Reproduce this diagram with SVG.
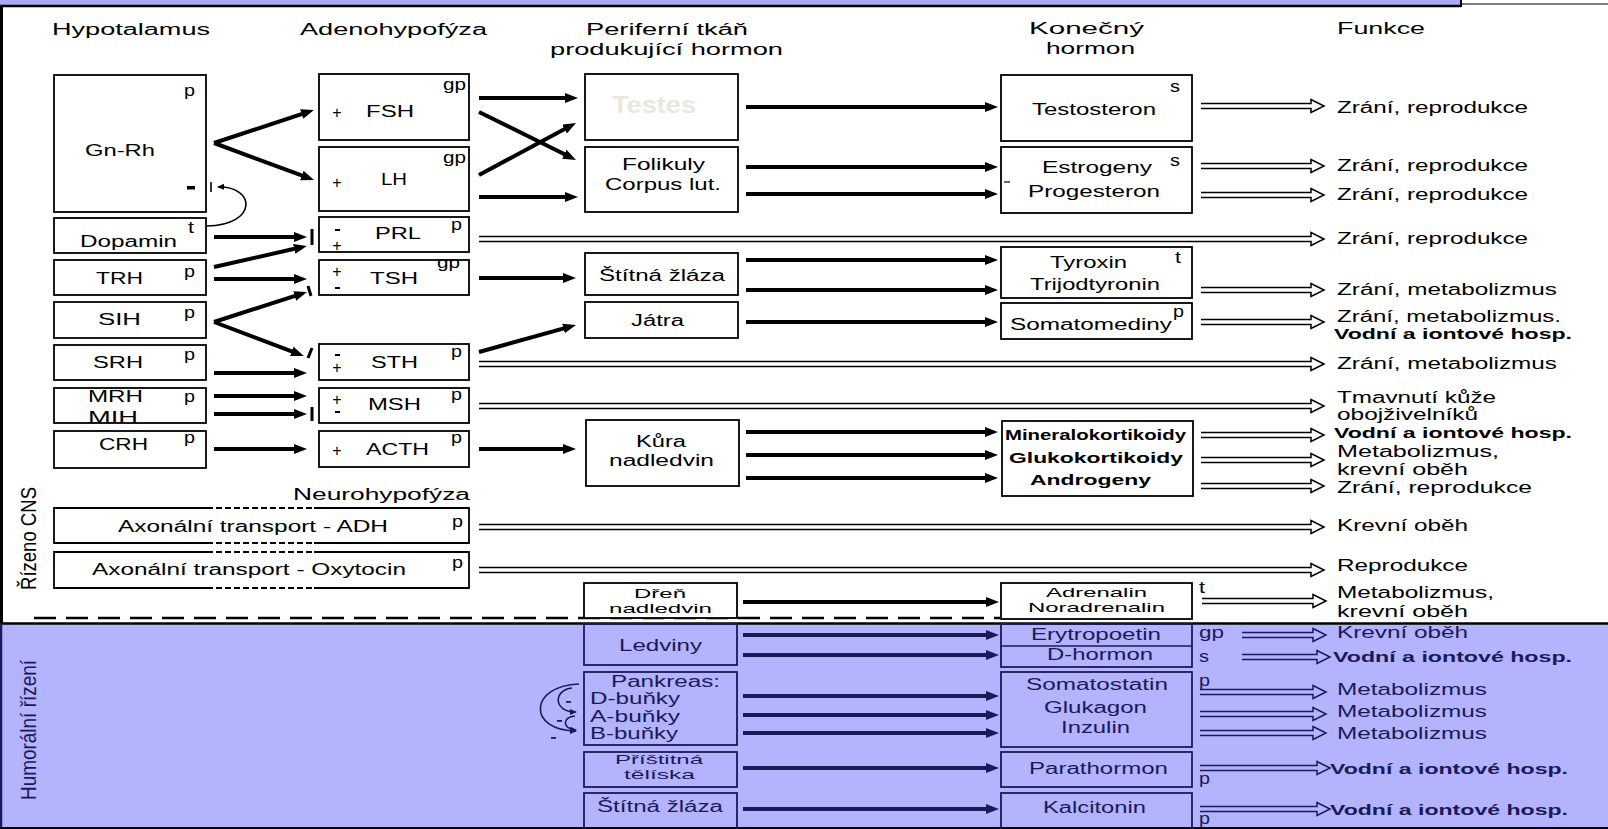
<svg xmlns="http://www.w3.org/2000/svg" width="1608" height="829" viewBox="0 0 1608 829">
<style>
text{font-family:"Liberation Sans",Arial,sans-serif;font-size:16px;fill:#000}
.m{font-size:15px}
.t2{font-size:13.5px}
.sp{font-size:17px}
.pm{font-size:16px}
.b{font-weight:bold}
.n{fill:#1a1a5a}
.bx{fill:#fff;stroke:#000;stroke-width:1.8}
.bxn{fill:none;stroke:#1a1a5a;stroke-width:1.8}
.ar{stroke:#000;stroke-width:4;fill:none;marker-end:url(#ah)}
.arn{stroke:#1a1a5a;stroke-width:4;fill:none;marker-end:url(#ahn)}
.da{fill:none;stroke:#000;stroke-width:1.5}
.dan{fill:none;stroke:#1a1a5a;stroke-width:1.5}
.bar{stroke:#000;stroke-width:3;fill:none}
.thin{stroke:#000;stroke-width:1.6;fill:none}
.thinn{stroke:#1a1a5a;stroke-width:1.6;fill:none}
.c{text-anchor:middle}
</style>
<defs>
<marker id="ah" markerUnits="userSpaceOnUse" markerWidth="14" markerHeight="12" refX="7" refY="5" orient="auto"><path d="M0,0 L13,5 L0,10 z" fill="#000"/></marker>
<marker id="ahn" markerUnits="userSpaceOnUse" markerWidth="14" markerHeight="12" refX="7" refY="5" orient="auto"><path d="M0,0 L13,5 L0,10 z" fill="#1a1a5a"/></marker>
<marker id="sh" markerUnits="userSpaceOnUse" markerWidth="8" markerHeight="7" refX="6" refY="3" orient="auto"><path d="M0,0 L7,3 L0,6 z" fill="#000"/></marker>
<marker id="shn" markerUnits="userSpaceOnUse" markerWidth="8" markerHeight="7" refX="6" refY="3" orient="auto"><path d="M0,0 L7,3 L0,6 z" fill="#1a1a5a"/></marker>
</defs>

<g id="frame">
<rect x="0" y="0" width="1608" height="829" fill="#fff"/>
<rect x="0" y="0" width="1461" height="5" fill="#a9a9f4"/>
<line x1="0" y1="6" x2="1461" y2="6" stroke="#000" stroke-width="2.5"/>
<line x1="1461" y1="4" x2="1608" y2="4" stroke="#000" stroke-width="1.2"/>
<line x1="1461" y1="0" x2="1461" y2="7" stroke="#000" stroke-width="2"/>
<line x1="1.5" y1="6" x2="1.5" y2="623" stroke="#000" stroke-width="3"/>
<rect x="0" y="623" width="1608" height="206" fill="#b3b3fe"/>
<line x1="0" y1="623.5" x2="1608" y2="623.5" stroke="#000" stroke-width="2.5"/>
<line x1="1" y1="623" x2="1" y2="829" stroke="#1a1a5a" stroke-width="2.5"/>
<line x1="0" y1="828" x2="1608" y2="828" stroke="#000" stroke-width="2"/>
<line x1="34" y1="618" x2="1000" y2="618" stroke="#000" stroke-width="2.5" stroke-dasharray="22 10"/>
<text transform="translate(36,590) rotate(-90) scale(1,1.4)" textLength="103" lengthAdjust="spacingAndGlyphs">Řízeno CNS</text>
<text class="n" transform="translate(36,800) rotate(-90) scale(1,1.4)" textLength="140" lengthAdjust="spacingAndGlyphs">Humorální řízení</text>
</g>

<g id="headers">
<text x="52" y="35" textLength="158" lengthAdjust="spacingAndGlyphs">Hypotalamus</text>
<text x="300" y="35" textLength="187" lengthAdjust="spacingAndGlyphs">Adenohypofýza</text>
<text x="586" y="35" textLength="162" lengthAdjust="spacingAndGlyphs">Periferní tkáň</text>
<text x="550" y="55" textLength="233" lengthAdjust="spacingAndGlyphs">produkující hormon</text>
<text x="1029" y="34" textLength="115" lengthAdjust="spacingAndGlyphs">Konečný</text>
<text x="1046" y="54" textLength="89" lengthAdjust="spacingAndGlyphs">hormon</text>
<text x="1337" y="34" textLength="88" lengthAdjust="spacingAndGlyphs">Funkce</text>
<text x="293" y="500" textLength="177" lengthAdjust="spacingAndGlyphs">Neurohypofýza</text>
</g>

<g id="connectors">
<path class="ar" d="M214,143 L308.3,111.9"/>
<path class="ar" d="M214,143 L308.4,177.9"/>
<path class="ar" d="M214,237 H301"/>
<path class="ar" d="M214,267 L301.1,247.3"/>
<path class="ar" d="M214,279 H301"/>
<path class="ar" d="M214,322 L301.3,293.8"/>
<path class="ar" d="M214,322 L298.3,353.9"/>
<path class="ar" d="M214,373 H301"/>
<path class="ar" d="M214,396 H301"/>
<path class="ar" d="M214,414 H301"/>
<path class="ar" d="M214,449 H301"/>
<path class="bar" d="M312,229 V245 M308,286 L311,296 M312,348 L308,358 M312,407 V421"/>
<path class="thin" d="M207,226 C258,225 256,186 218,187" marker-end="url(#sh)"/>
<path class="thin" d="M211,182 V192"/>

<path class="ar" d="M479,98 H572"/>
<path class="ar" d="M479,112 L570.6,157.3"/>
<path class="ar" d="M479,175 L570.7,125.8"/>
<path class="ar" d="M479,197 H572"/>
<path class="ar" d="M479,278 H570"/>
<path class="ar" d="M479,352 L570.2,326.6"/>
<path class="ar" d="M479,449 H570"/>

<path class="ar" d="M746,107 H992"/>
<path class="ar" d="M746,167 H992"/>
<path class="ar" d="M746,194 H992"/>
<path class="ar" d="M746,260 H992"/>
<path class="ar" d="M746,290 H992"/>
<path class="ar" d="M746,322 H992"/>
<path class="ar" d="M746,432 H992"/>
<path class="ar" d="M746,455 H992"/>
<path class="ar" d="M746,478 H992"/>
<path class="ar" d="M743,602 H993"/>

<path class="arn" d="M743,635 H993"/>
<path class="arn" d="M743,655 H993"/>
<path class="arn" d="M743,696 H993"/>
<path class="arn" d="M743,715 H993"/>
<path class="arn" d="M743,733 H993"/>
<path class="arn" d="M743,768 H993"/>
<path class="arn" d="M743,809 H993"/>

<path class="thinn" d="M579,684 C528,686 528,731 576,731" marker-end="url(#shn)"/>
<path class="thinn" d="M572,688 C553,690 553,712 576,712" marker-end="url(#shn)"/>
<path class="thinn" d="M575,716 C562,717 562,729 576,730" marker-end="url(#shn)"/>

<path class="da" d="M1201,103.5 H1311 V99.5 L1324,106 L1311,112.5 V108.5 H1201"/>
<path class="da" d="M1201,163.5 H1311 V159.5 L1324,166 L1311,172.5 V168.5 H1201"/>
<path class="da" d="M1201,192.5 H1311 V188.5 L1324,195 L1311,201.5 V197.5 H1201"/>
<path class="da" d="M479,236.5 H1311 V232.5 L1324,239 L1311,245.5 V241.5 H479"/>
<path class="da" d="M1201,287.5 H1311 V283.5 L1324,290 L1311,296.5 V292.5 H1201"/>
<path class="da" d="M1201,319.5 H1311 V315.5 L1324,322 L1311,328.5 V324.5 H1201"/>
<path class="da" d="M479,361.5 H1311 V357.5 L1324,364 L1311,370.5 V366.5 H479"/>
<path class="da" d="M479,403.5 H1311 V399.5 L1324,406 L1311,412.5 V408.5 H479"/>
<path class="da" d="M1201,432.5 H1311 V428.5 L1324,435 L1311,441.5 V437.5 H1201"/>
<path class="da" d="M1201,457.5 H1311 V453.5 L1324,460 L1311,466.5 V462.5 H1201"/>
<path class="da" d="M1201,483.5 H1311 V479.5 L1324,486 L1311,492.5 V488.5 H1201"/>
<path class="da" d="M479,524.5 H1311 V520.5 L1324,527 L1311,533.5 V529.5 H479"/>
<path class="da" d="M479,567.5 H1311 V563.5 L1324,570 L1311,576.5 V572.5 H479"/>
<path class="da" d="M1202,598.5 H1313 V594.5 L1326,601 L1313,607.5 V603.5 H1202"/>

<path class="dan" d="M1242,632.5 H1313 V628.5 L1326,635 L1313,641.5 V637.5 H1242"/>
<path class="dan" d="M1242,654.5 H1317 V650.5 L1330,657 L1317,663.5 V659.5 H1242"/>
<path class="dan" d="M1200,689.5 H1313 V685.5 L1326,692 L1313,698.5 V694.5 H1200"/>
<path class="dan" d="M1200,711.5 H1313 V707.5 L1326,714 L1313,720.5 V716.5 H1200"/>
<path class="dan" d="M1200,730.5 H1313 V726.5 L1326,733 L1313,739.5 V735.5 H1200"/>
<path class="dan" d="M1200,765.5 H1317 V761.5 L1330,768 L1317,774.5 V770.5 H1200"/>
<path class="dan" d="M1200,806.5 H1317 V802.5 L1330,809 L1317,815.5 V811.5 H1200"/>
</g>

<g id="gnrh">
<rect class="bx" x="54" y="75" width="152" height="137"/>
<text x="85" y="156" textLength="70" lengthAdjust="spacingAndGlyphs">Gn-Rh</text>
<text class="sp" x="184" y="96" textLength="11" lengthAdjust="spacingAndGlyphs">p</text>
<rect x="187" y="186" width="8" height="3.5" fill="#000"/>
</g>
<g id="dopamin">
<rect class="bx" x="54" y="218" width="152" height="35"/>
<text x="80" y="247" textLength="97" lengthAdjust="spacingAndGlyphs">Dopamin</text>
<text class="sp" x="188" y="233" textLength="6" lengthAdjust="spacingAndGlyphs">t</text>
</g>
<g id="trh">
<rect class="bx" x="54" y="260" width="152" height="35"/>
<text x="96" y="284" textLength="47" lengthAdjust="spacingAndGlyphs">TRH</text>
<text class="sp" x="184" y="277" textLength="11" lengthAdjust="spacingAndGlyphs">p</text>
</g>
<g id="sih">
<rect class="bx" x="54" y="302" width="152" height="36"/>
<text x="98" y="325" textLength="43" lengthAdjust="spacingAndGlyphs">SIH</text>
<text class="sp" x="184" y="318" textLength="11" lengthAdjust="spacingAndGlyphs">p</text>
</g>
<g id="srh">
<rect class="bx" x="54" y="345" width="152" height="35"/>
<text x="93" y="368" textLength="50" lengthAdjust="spacingAndGlyphs">SRH</text>
<text class="sp" x="184" y="360" textLength="11" lengthAdjust="spacingAndGlyphs">p</text>
</g>
<g id="mrh">
<rect class="bx" x="54" y="388" width="152" height="35"/>
<text x="88" y="402" textLength="55" lengthAdjust="spacingAndGlyphs">MRH</text>
<text x="88" y="423" textLength="50" lengthAdjust="spacingAndGlyphs">MIH</text>
<text class="sp" x="184" y="402" textLength="11" lengthAdjust="spacingAndGlyphs">p</text>
</g>
<g id="crh">
<rect class="bx" x="54" y="431" width="152" height="37"/>
<text x="99" y="450" textLength="49" lengthAdjust="spacingAndGlyphs">CRH</text>
<text class="sp" x="184" y="443" textLength="11" lengthAdjust="spacingAndGlyphs">p</text>
</g>

<g id="fsh">
<rect class="bx" x="319" y="74" width="150" height="66"/>
<text class="pm c" x="337" y="118">+</text>
<text x="366" y="117" textLength="48" lengthAdjust="spacingAndGlyphs">FSH</text>
<text class="sp" x="443" y="90" textLength="23" lengthAdjust="spacingAndGlyphs">gp</text>
</g>
<g id="lh">
<rect class="bx" x="319" y="147" width="150" height="64"/>
<text class="pm c" x="337" y="188">+</text>
<text x="381" y="185" textLength="26" lengthAdjust="spacingAndGlyphs">LH</text>
<text class="sp" x="443" y="163" textLength="23" lengthAdjust="spacingAndGlyphs">gp</text>
</g>
<g id="prl">
<rect class="bx" x="319" y="217" width="150" height="35"/>
<rect x="335" y="229" width="5" height="2" fill="#000"/>
<text class="pm c" x="337" y="251">+</text>
<text x="375" y="239" textLength="46" lengthAdjust="spacingAndGlyphs">PRL</text>
<text class="sp" x="451" y="230" textLength="11" lengthAdjust="spacingAndGlyphs">p</text>
</g>
<g id="tsh">
<rect class="bx" x="319" y="260" width="150" height="35"/>
<text class="pm c" x="337" y="277">+</text>
<rect x="335" y="287" width="5" height="2" fill="#000"/>
<text x="370" y="284" textLength="48" lengthAdjust="spacingAndGlyphs">TSH</text>
<text class="sp" x="437" y="268" textLength="23" lengthAdjust="spacingAndGlyphs">gp</text>
</g>
<g id="sth">
<rect class="bx" x="319" y="344" width="150" height="36"/>
<rect x="335" y="354" width="5" height="2" fill="#000"/>
<text class="pm c" x="337" y="373">+</text>
<text x="371" y="368" textLength="47" lengthAdjust="spacingAndGlyphs">STH</text>
<text class="sp" x="451" y="357" textLength="11" lengthAdjust="spacingAndGlyphs">p</text>
</g>
<g id="msh">
<rect class="bx" x="319" y="388" width="150" height="35"/>
<text class="pm c" x="337" y="405">+</text>
<rect x="335" y="411" width="5" height="2" fill="#000"/>
<text x="368" y="410" textLength="53" lengthAdjust="spacingAndGlyphs">MSH</text>
<text class="sp" x="451" y="400" textLength="11" lengthAdjust="spacingAndGlyphs">p</text>
</g>
<g id="acth">
<rect class="bx" x="319" y="431" width="150" height="36"/>
<text class="pm c" x="337" y="456">+</text>
<text x="366" y="455" textLength="63" lengthAdjust="spacingAndGlyphs">ACTH</text>
<text class="sp" x="451" y="443" textLength="11" lengthAdjust="spacingAndGlyphs">p</text>
</g>

<g id="adh">
<rect x="54" y="508" width="415" height="35" fill="#fff"/>
<path d="M207,508 H54 V543 H207 M314,508 H469 V543 H314" fill="none" stroke="#000" stroke-width="1.8"/>
<path d="M207,508 H314 M207,543 H314" fill="none" stroke="#000" stroke-width="1.8" stroke-dasharray="6 3"/>
<text x="118" y="532" textLength="270" lengthAdjust="spacingAndGlyphs">Axonální transport - ADH</text>
<text class="sp" x="452" y="527" textLength="11" lengthAdjust="spacingAndGlyphs">p</text>
</g>
<g id="oxytocin">
<rect x="54" y="552" width="415" height="36" fill="#fff"/>
<path d="M207,552 H54 V588 H207 M314,552 H469 V588 H314" fill="none" stroke="#000" stroke-width="1.8"/>
<path d="M207,552 H314 M207,588 H314" fill="none" stroke="#000" stroke-width="1.8" stroke-dasharray="6 3"/>
<text x="92" y="575" textLength="314" lengthAdjust="spacingAndGlyphs">Axonální transport - Oxytocin</text>
<text class="sp" x="452" y="568" textLength="11" lengthAdjust="spacingAndGlyphs">p</text>
</g>

<g id="testes">
<rect class="bx" x="585" y="74" width="153" height="66"/>
<text class="b" x="612" y="113" style="font-size:24px;fill:#ebe7dc" textLength="84" lengthAdjust="spacingAndGlyphs">Testes</text>
</g>
<g id="folikuly">
<rect class="bx" x="585" y="147" width="153" height="65"/>
<text x="622" y="170" textLength="83" lengthAdjust="spacingAndGlyphs">Folikuly</text>
<text x="605" y="190" textLength="116" lengthAdjust="spacingAndGlyphs">Corpus lut.</text>
</g>
<g id="stitna1">
<rect class="bx" x="585" y="253" width="153" height="42"/>
<text x="599" y="281" textLength="126" lengthAdjust="spacingAndGlyphs">Štítná žláza</text>
</g>
<g id="jatra">
<rect class="bx" x="585" y="302" width="153" height="36"/>
<text x="631" y="326" textLength="53" lengthAdjust="spacingAndGlyphs">Játra</text>
</g>
<g id="kura">
<rect class="bx" x="586" y="420" width="153" height="66"/>
<text x="636" y="447" textLength="50" lengthAdjust="spacingAndGlyphs">Kůra</text>
<text x="609" y="466" textLength="105" lengthAdjust="spacingAndGlyphs">nadledvin</text>
</g>
<g id="dren">
<rect class="bx" x="584" y="583" width="153" height="35"/>
<text class="t2" x="634" y="598" textLength="52" lengthAdjust="spacingAndGlyphs">Dřeň</text>
<text class="t2" x="609" y="613" textLength="103" lengthAdjust="spacingAndGlyphs">nadledvin</text>
</g>
<g id="ledviny">
<rect class="bxn" x="584" y="624" width="153" height="41"/>
<text class="n" x="619" y="651" textLength="83" lengthAdjust="spacingAndGlyphs">Ledviny</text>
</g>
<g id="pankreas">
<rect class="bxn" x="584" y="672" width="153" height="73"/>
<text class="n" x="611" y="687" textLength="109" lengthAdjust="spacingAndGlyphs">Pankreas:</text>
<text class="n" x="590" y="704" textLength="90" lengthAdjust="spacingAndGlyphs">D-buňky</text>
<text class="n" x="590" y="722" textLength="90" lengthAdjust="spacingAndGlyphs">A-buňky</text>
<text class="n" x="590" y="739" textLength="88" lengthAdjust="spacingAndGlyphs">B-buňky</text>
<rect x="566" y="701" width="5" height="1.8" fill="#1a1a5a"/>
<rect x="557" y="720" width="5" height="1.8" fill="#1a1a5a"/>
<rect x="551" y="737" width="5" height="1.8" fill="#1a1a5a"/>
</g>
<g id="pristitna">
<rect class="bxn" x="584" y="752" width="153" height="35"/>
<text class="n t2" x="615" y="764" textLength="88" lengthAdjust="spacingAndGlyphs">Příštitná</text>
<text class="n t2" x="624" y="779" textLength="71" lengthAdjust="spacingAndGlyphs">tělíska</text>
</g>
<g id="stitna2">
<rect class="bxn" x="584" y="793" width="153" height="40"/>
<text class="n" x="597" y="812" textLength="126" lengthAdjust="spacingAndGlyphs">Štítná žláza</text>
</g>

<g id="testosteron">
<rect class="bx" x="1001" y="75" width="191" height="66"/>
<text x="1032" y="115" textLength="124" lengthAdjust="spacingAndGlyphs">Testosteron</text>
<text class="sp" x="1170" y="92" textLength="10" lengthAdjust="spacingAndGlyphs">s</text>
</g>
<g id="estrogeny">
<rect class="bx" x="1001" y="147" width="191" height="66"/>
<text x="1042" y="173" textLength="110" lengthAdjust="spacingAndGlyphs">Estrogeny</text>
<text x="1028" y="197" textLength="132" lengthAdjust="spacingAndGlyphs">Progesteron</text>
<text class="sp" x="1170" y="166" textLength="10" lengthAdjust="spacingAndGlyphs">s</text>
<path d="M1004,182 H1010" stroke="#000" stroke-width="1.2"/>
</g>
<g id="tyroxin">
<rect class="bx" x="1001" y="247" width="191" height="51"/>
<text x="1050" y="268" textLength="77" lengthAdjust="spacingAndGlyphs">Tyroxin</text>
<text x="1030" y="290" textLength="130" lengthAdjust="spacingAndGlyphs">Trijodtyronin</text>
<text class="sp" x="1175" y="263" textLength="6" lengthAdjust="spacingAndGlyphs">t</text>
</g>
<g id="somatomediny">
<rect class="bx" x="1001" y="303" width="191" height="36"/>
<text x="1010" y="330" textLength="162" lengthAdjust="spacingAndGlyphs">Somatomediny</text>
<text class="sp" x="1173" y="317" textLength="11" lengthAdjust="spacingAndGlyphs">p</text>
</g>
<g id="mineralo">
<rect class="bx" x="1002" y="421" width="191" height="75"/>
<text class="b m" x="1005" y="440" textLength="181" lengthAdjust="spacingAndGlyphs">Mineralokortikoidy</text>
<text class="b m" x="1009" y="463" textLength="174" lengthAdjust="spacingAndGlyphs">Glukokortikoidy</text>
<text class="b m" x="1030" y="485" textLength="121" lengthAdjust="spacingAndGlyphs">Androgeny</text>
</g>
<g id="adrenalin">
<rect class="bx" x="1001" y="583" width="191" height="36"/>
<text class="t2" x="1046" y="597" textLength="101" lengthAdjust="spacingAndGlyphs">Adrenalin</text>
<text class="t2" x="1028" y="612" textLength="137" lengthAdjust="spacingAndGlyphs">Noradrenalin</text>
<text class="sp" x="1199" y="593" textLength="6" lengthAdjust="spacingAndGlyphs">t</text>
</g>
<g id="erytropoetin">
<rect class="bxn" x="1001" y="624" width="191" height="43"/>
<line x1="1001" y1="646" x2="1192" y2="646" stroke="#1a1a5a" stroke-width="1.5"/>
<text class="n" x="1031" y="640" textLength="130" lengthAdjust="spacingAndGlyphs">Erytropoetin</text>
<text class="n" x="1047" y="660" textLength="106" lengthAdjust="spacingAndGlyphs">D-hormon</text>
<text class="n sp" x="1199" y="638" textLength="25" lengthAdjust="spacingAndGlyphs">gp</text>
<text class="n sp" x="1199" y="662" textLength="10" lengthAdjust="spacingAndGlyphs">s</text>
</g>
<g id="somatostatin">
<rect class="bxn" x="1001" y="672" width="191" height="75"/>
<text class="n" x="1026" y="690" textLength="142" lengthAdjust="spacingAndGlyphs">Somatostatin</text>
<text class="n" x="1044" y="713" textLength="103" lengthAdjust="spacingAndGlyphs">Glukagon</text>
<text class="n" x="1061" y="733" textLength="69" lengthAdjust="spacingAndGlyphs">Inzulin</text>
<text class="n sp" x="1199" y="686" textLength="11" lengthAdjust="spacingAndGlyphs">p</text>
</g>
<g id="parathormon">
<rect class="bxn" x="1001" y="752" width="191" height="35"/>
<text class="n" x="1029" y="774" textLength="139" lengthAdjust="spacingAndGlyphs">Parathormon</text>
<text class="n sp" x="1199" y="784" textLength="11" lengthAdjust="spacingAndGlyphs">p</text>
</g>
<g id="kalcitonin">
<rect class="bxn" x="1001" y="793" width="191" height="40"/>
<text class="n" x="1043" y="813" textLength="103" lengthAdjust="spacingAndGlyphs">Kalcitonin</text>
<text class="n sp" x="1199" y="824" textLength="11" lengthAdjust="spacingAndGlyphs">p</text>
</g>

<g id="funkce">
<text x="1337" y="113" textLength="191" lengthAdjust="spacingAndGlyphs">Zrání, reprodukce</text>
<text x="1337" y="171" textLength="191" lengthAdjust="spacingAndGlyphs">Zrání, reprodukce</text>
<text x="1337" y="200" textLength="191" lengthAdjust="spacingAndGlyphs">Zrání, reprodukce</text>
<text x="1337" y="244" textLength="191" lengthAdjust="spacingAndGlyphs">Zrání, reprodukce</text>
<text x="1337" y="295" textLength="220" lengthAdjust="spacingAndGlyphs">Zrání, metabolizmus</text>
<text x="1337" y="322" textLength="224" lengthAdjust="spacingAndGlyphs">Zrání, metabolizmus.</text>
<text class="b m" x="1334" y="339" textLength="238" lengthAdjust="spacingAndGlyphs">Vodní a iontové hosp.</text>
<text x="1337" y="369" textLength="220" lengthAdjust="spacingAndGlyphs">Zrání, metabolizmus</text>
<text x="1337" y="403" textLength="159" lengthAdjust="spacingAndGlyphs">Tmavnutí kůže</text>
<text x="1337" y="420" textLength="141" lengthAdjust="spacingAndGlyphs">obojživelníků</text>
<text class="b m" x="1334" y="438" textLength="238" lengthAdjust="spacingAndGlyphs">Vodní a iontové hosp.</text>
<text x="1337" y="457" textLength="162" lengthAdjust="spacingAndGlyphs">Metabolizmus,</text>
<text x="1337" y="475" textLength="131" lengthAdjust="spacingAndGlyphs">krevní oběh</text>
<text x="1337" y="493" textLength="195" lengthAdjust="spacingAndGlyphs">Zrání, reprodukce</text>
<text x="1337" y="531" textLength="131" lengthAdjust="spacingAndGlyphs">Krevní oběh</text>
<text x="1337" y="571" textLength="131" lengthAdjust="spacingAndGlyphs">Reprodukce</text>
<text x="1337" y="598" textLength="157" lengthAdjust="spacingAndGlyphs">Metabolizmus,</text>
<text x="1337" y="617" textLength="131" lengthAdjust="spacingAndGlyphs">krevní oběh</text>
<text class="n" x="1337" y="638" textLength="131" lengthAdjust="spacingAndGlyphs">Krevní oběh</text>
<text class="n b m" x="1333" y="662" textLength="239" lengthAdjust="spacingAndGlyphs">Vodní a iontové hosp.</text>
<text class="n" x="1337" y="695" textLength="150" lengthAdjust="spacingAndGlyphs">Metabolizmus</text>
<text class="n" x="1337" y="717" textLength="150" lengthAdjust="spacingAndGlyphs">Metabolizmus</text>
<text class="n" x="1337" y="739" textLength="150" lengthAdjust="spacingAndGlyphs">Metabolizmus</text>
<text class="n b m" x="1330" y="774" textLength="238" lengthAdjust="spacingAndGlyphs">Vodní a iontové hosp.</text>
<text class="n b m" x="1330" y="815" textLength="238" lengthAdjust="spacingAndGlyphs">Vodní a iontové hosp.</text>
</g>
</svg>
